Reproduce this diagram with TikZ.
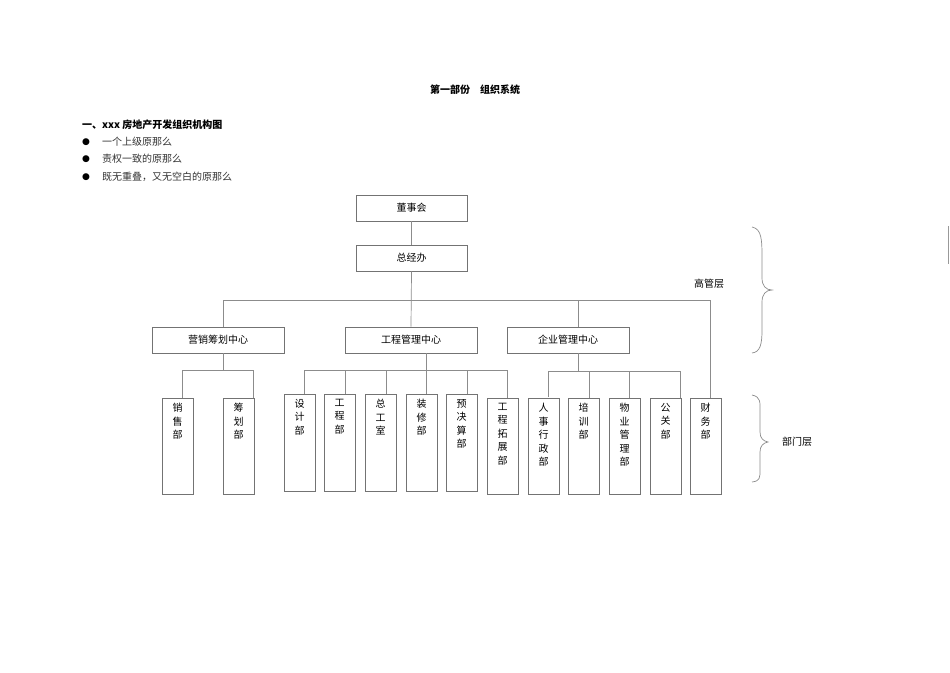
\documentclass[tikz,border=0pt]{standalone}
\usepackage{fontspec}
\setmainfont{Noto Sans CJK SC}
\newfontfamily\djfont{DejaVu Sans}
\tikzset{ln/.style={draw=black!45,line width=0.7pt},
 hbox/.style={draw=black!55,line width=0.7pt,minimum height=26pt,inner sep=0pt,font=\fontsize{10}{12}\selectfont},
 vtxt/.style={anchor=north,align=center,inner sep=0pt,font=\fontsize{10}{13.5}\selectfont},
 tx/.style={anchor=west,inner sep=0pt,font=\fontsize{10}{12}\selectfont}}
\begin{document}
\begin{tikzpicture}[x=1pt,y=-1pt]
\useasboundingbox (0,0) rectangle (950,672);
\node[font=\fontsize{10}{12}\selectfont\bfseries] (title) at (475,90) {第一部份\quad 组织系统};
\node[tx,font=\fontsize{10}{12}\selectfont\bfseries] (h) at (82,125) {一、xxx 房地产开发组织机构图};
\foreach \y/\t [count=\i] in {142/一个上级原那么,159/责权一致的原那么,177/既无重叠，又无空白的原那么}{
 \node[tx,font=\djfont\fontsize{9}{10}\selectfont] (b\i) at (82,\y) {●};
 \node[tx,text=black!80] (t\i) at (102,\y) {\t};}
% top boxes
\node[hbox,minimum width=111pt] (dsh) at (411.5,208) {董事会};
\node[hbox,minimum width=111pt] (zjb) at (411.5,258) {总经办};
\node[hbox,minimum width=132pt] (yx) at (218,340) {营销筹划中心};
\node[hbox,minimum width=132pt] (gc) at (411,340) {工程管理中心};
\node[hbox,minimum width=122pt] (qy) at (568,340) {企业管理中心};
% vertical boxes
\foreach \n/\l/\t/\b/\txt in {xs/162/398/494/销\\售\\部, ch/223/398/494/筹\\划\\部,
 sj/284/394/491/设\\计\\部, gcb/324/394/491/工\\程\\部, zg/365/394/491/总\\工\\室,
 zx/406/394/491/装\\修\\部, yj/446/394/491/预\\决\\算\\部, tz/487/398/494/工\\程\\拓\\展\\部,
 rs/528/398/494/人\\事\\行\\政\\部, px/568/398/494/培\\训\\部, wy/609/398/494/物\\业\\管\\理\\部,
 gg/650/398/494/公\\关\\部, cw/690/398/494/财\\务\\部}{
 \path[draw=black!55,line width=0.7pt] (\l,\t) rectangle (\l+31,\b);
 \coordinate (\n) at (\l+15.5,\t);
 \node[vtxt] (\n t) at (\l+15.5,\t+5) {\txt};}
% connectors
\draw[ln] (dsh.south) -- (zjb.north);
\draw[ln] (zjb.south) -- (gc.north);
\coordinate (bL) at (223,300); \coordinate (bR) at (710,300);
\draw[ln] (bL |- yx.north) -- (bL) -- (bR) -- (710,398);
\draw[ln] (578,300) -- (578,327);
\draw[ln] (223,353) -- (223,370);
\draw[ln] (182,398) -- (182,370) -- (253,370) -- (253,398);
\draw[ln] (426,353) -- (426,394);
\draw[ln] (304,394) -- (304,370) -- (507,370) -- (507,398);
\foreach \x in {345,386,467} \draw[ln] (\x,370) -- (\x,394);
\draw[ln] (578,353) -- (578,371);
\draw[ln] (548,397) -- (548,371) -- (680,371) -- (680,398);
\foreach \x in {589,629} \draw[ln] (\x,371) -- (\x,398);
% braces
\draw[ln] (752,227) .. controls (762,229) and (762,240) .. (762,260) -- (762,278) .. controls (762,286) and (766,290) .. (772,290)
 .. controls (766,290) and (762,294) .. (762,302) -- (762,330) .. controls (762,345) and (760,352) .. (752,353);
\draw[ln] (752,395) .. controls (761,397) and (760,402) .. (760,412) -- (760,432) .. controls (760,438) and (763,441) .. (768,442)
 .. controls (763,443) and (760,446) .. (760,452) -- (760,470) .. controls (760,478) and (760,481) .. (752,482);
\node[font=\fontsize{10}{12}\selectfont] (ggc) at (709,284) {高管层};
\node[font=\fontsize{10}{12}\selectfont] (bmc) at (797,442) {部门层};
\draw[black!40,line width=0.7pt] (948,226) -- (948,264);
\end{tikzpicture}
\end{document}
